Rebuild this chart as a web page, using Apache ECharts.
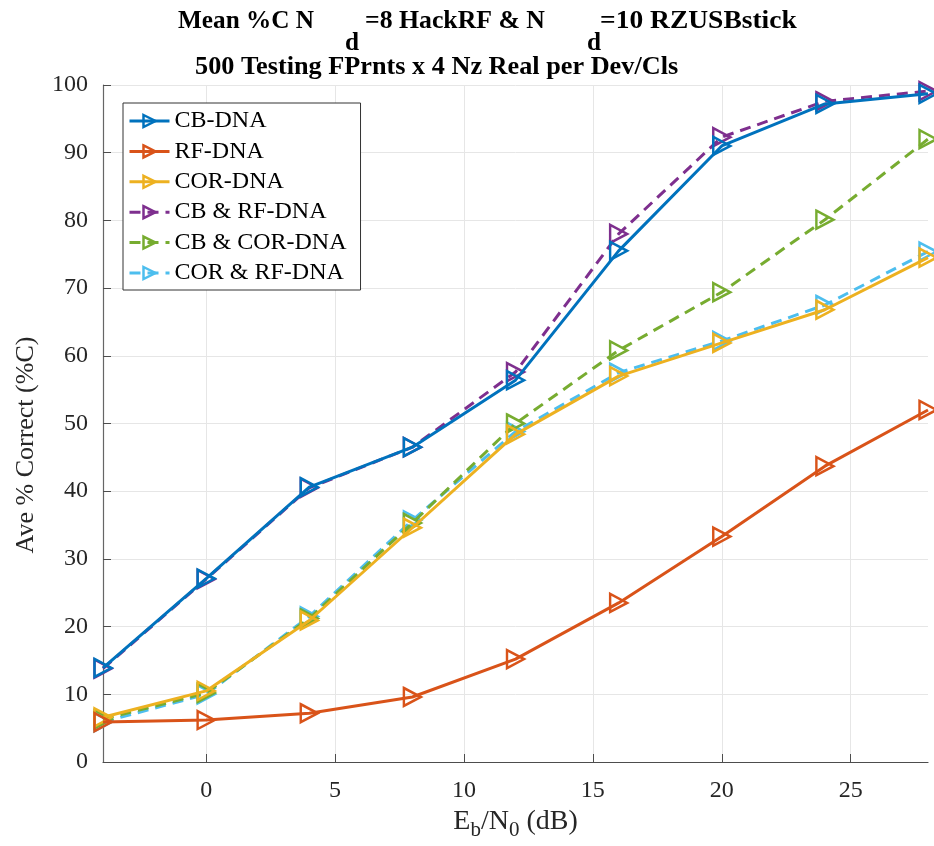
<!DOCTYPE html>
<html>
<head>
<meta charset="utf-8">
<script src="https://cdn.jsdelivr.net/npm/echarts@6/dist/echarts.min.js"></script>
<style>html,body{margin:0;padding:0;background:#fff}#c{width:934px;height:846px}</style>
</head>
<body>
<div id="c"></div>
<script>
var xs = [-4, 0, 4, 8, 12, 16, 20, 24, 28];
var cbDNA = [13.9, 27.1, 40.6, 46.5, 56.4, 75.5, 91.0, 97.2, 98.7];
var rfDNA = [5.9, 6.2, 7.2, 9.6, 15.2, 23.5, 33.3, 43.7, 52.0];
var corDNA = [6.6, 10.5, 20.9, 34.6, 48.4, 57.0, 61.9, 66.8, 74.5];
var cbRfDNA = [13.8, 27.0, 40.5, 46.5, 57.6, 78.0, 92.3, 97.6, 99.1];
var cbCorDNA = [6.3, 10.2, 21.2, 35.3, 50.0, 60.8, 69.4, 80.1, 92.0];
var corRfDNA = [5.9, 10.0, 21.5, 35.7, 48.8, 57.5, 62.2, 67.5, 75.4];
var seriesNames = ['CB-DNA', 'RF-DNA', 'COR-DNA', 'CB & RF-DNA', 'CB & COR-DNA', 'COR & RF-DNA'];
var seriesData = [cbDNA, rfDNA, corDNA, cbRfDNA, cbCorDNA, corRfDNA];
var colors = ['#0072BD', '#D95319', '#EDB120', '#7E2F8E', '#77AC30', '#4DBEEE'];
var dashed = [false, false, false, true, true, true];
var xTicks = [0, 5, 10, 15, 20, 25];
var titleParts = ['Mean %C N', 'd', '=8 HackRF & N', 'd', '=10 RZUSBstick'];
var subtitle = '500 Testing FPrnts x 4 Nz Real per Dev/Cls';
var yName = 'Ave % Correct (%C)';

var FONT = '"Liberation Serif", "Times New Roman", serif';
var tri = 'path://M0,0 L10,5 L0,10 Z';

var chart = echarts.init(document.getElementById('c'), null, {renderer: 'canvas'});
var series = seriesNames.map(function (n, i) {
  return {
    name: n,
    type: 'line',
    data: seriesData[i].map(function (v, k) { return [xs[k], v]; }),
    symbol: tri,
    symbolSize: [17, 18],
    showAllSymbol: true,
    clip: false,
    z: 10 - i,
    lineStyle: {color: colors[i], width: 3, type: dashed[i] ? [11, 7] : 'solid'},
    itemStyle: {color: 'rgba(255,255,255,0)', borderColor: colors[i], borderWidth: 2.5},
    emphasis: {disabled: true}
  };
});

function tt(text, x, y, sx, size) {
  return {type: 'text', x: x, y: y, scaleX: sx,
    style: {text: text, font: 'bold ' + size + 'px ' + FONT, fill: '#000', align: 'left', verticalAlign: 'top'}};
}

chart.setOption({
  animation: false,
  backgroundColor: '#ffffff',
  color: colors,
  grid: {left: 103, right: 6, top: 85, bottom: 83, containLabel: false},
  xAxis: {
    type: 'value', min: -4, max: 28,
    name: '{n|E}{s|b}{n|/N}{s|0}{n| (dB)}',
    nameLocation: 'middle', nameGap: 41,
    nameTextStyle: {
      rich: {
        n: {fontFamily: FONT, fontSize: 28, color: '#262626'},
        s: {fontFamily: FONT, fontSize: 21, color: '#262626', padding: [17, 0, 0, 0]}
      }
    },
    axisLine: {show: true, onZero: false, lineStyle: {color: '#4d4d4d', width: 1.2}},
    axisTick: {show: true, inside: true, length: 8, customValues: xTicks, lineStyle: {color: '#4d4d4d'}},
    axisLabel: {customValues: xTicks, fontFamily: FONT, fontSize: 24, color: '#262626', margin: 17},
    splitLine: {show: true, lineStyle: {color: '#e6e6e6', width: 1}}
  },
  yAxis: {
    type: 'value', min: 0, max: 100, interval: 10,
    axisLine: {show: true, onZero: false, lineStyle: {color: '#666666', width: 1.2}},
    axisTick: {show: true, inside: true, length: 8, lineStyle: {color: '#4d4d4d'}},
    axisLabel: {fontFamily: FONT, fontSize: 24, color: '#262626', margin: 15},
    splitLine: {show: true, lineStyle: {color: '#e6e6e6', width: 1}}
  },
  legend: {
    orient: 'vertical', left: 123, top: 103,
    data: seriesNames,
    itemWidth: 40, itemHeight: 15, itemGap: 6.4,
    padding: [6, 14, 5, 5],
    borderColor: '#333333', borderWidth: 1, backgroundColor: '#ffffff',
    textStyle: {fontFamily: FONT, fontSize: 24, color: '#000'},
    lineStyle: {width: 3},
    itemStyle: {borderWidth: 2.5},
    selectedMode: false
  },
  graphic: [
    tt(titleParts[0], 178, 9, 1.01, 25),
    tt(titleParts[1], 345, 31, 1.01, 25),
    tt(titleParts[2], 365, 9, 1.03, 25),
    tt(titleParts[3], 587, 31, 1.01, 25),
    tt(titleParts[4], 600, 9, 1.10, 25),
    tt(subtitle, 195, 55, 1.05, 25),
    {type: 'text', x: 26, y: 445, rotation: Math.PI / 2,
      style: {text: yName, font: '26px ' + FONT, fill: '#262626', align: 'center', verticalAlign: 'middle'}}
  ],
  series: series
});
</script>
</body>
</html>
